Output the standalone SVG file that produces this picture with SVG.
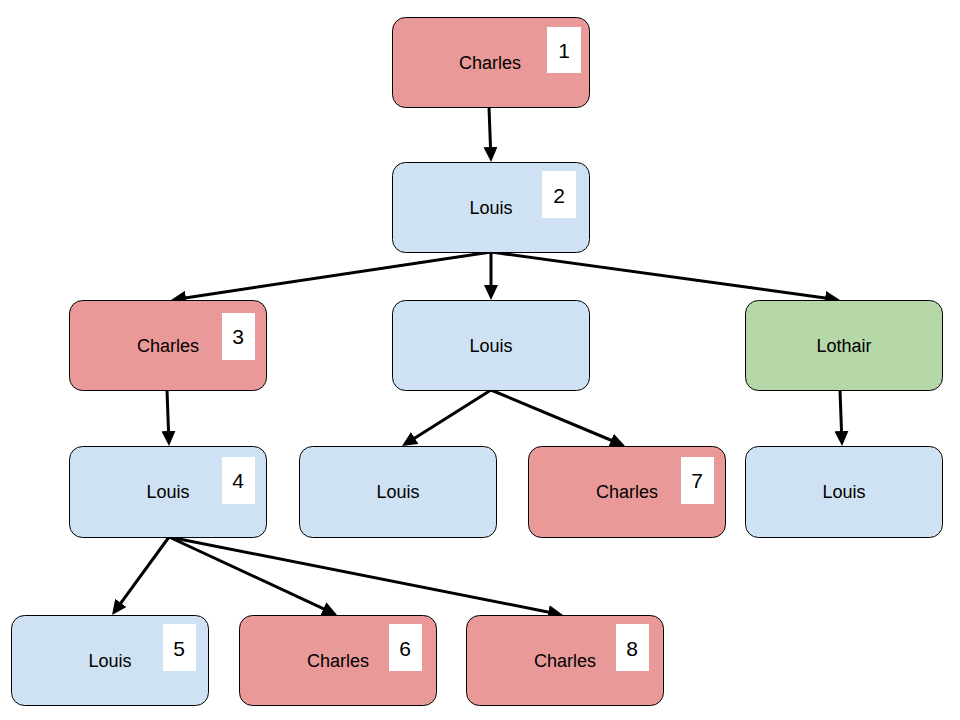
<svg xmlns="http://www.w3.org/2000/svg" width="960" height="720" viewBox="0 0 960 720">
<style>
.n{stroke:#000;stroke-width:1}
.red{fill:#EA9999}
.blue{fill:#CFE2F3}
.green{fill:#B6D7A8}
.badge{fill:#fff}
.lbl{font-family:"Liberation Sans",Arial,sans-serif;font-size:18px;fill:#000;text-anchor:middle}
.num{font-family:"Liberation Sans",Arial,sans-serif;font-size:21px;fill:#000;text-anchor:middle}
.e{stroke:#000;stroke-width:3;fill:none;marker-end:url(#ah)}
</style>
<defs>
<marker id="ah" viewBox="0 0 15 14" markerWidth="15" markerHeight="14" refX="11" refY="7" orient="auto" markerUnits="userSpaceOnUse">
<path d="M0,0 L15,7 L0,14 z" fill="#000"/>
</marker>
</defs>
<rect width="960" height="720" fill="#fff"/>
<g id="connectors">
<line class="e" x1="489" y1="107" x2="490.9" y2="158"/>
<line class="e" x1="491" y1="252" x2="175" y2="299.4"/>
<line class="e" x1="491" y1="252" x2="491" y2="296"/>
<line class="e" x1="491" y1="252" x2="836" y2="299.5"/>
<line class="e" x1="167" y1="390" x2="168.9" y2="442"/>
<line class="e" x1="491" y1="390" x2="405.4" y2="443.9"/>
<line class="e" x1="491" y1="390" x2="621.3" y2="444.5"/>
<line class="e" x1="840" y1="390" x2="841.9" y2="442"/>
<line class="e" x1="169" y1="537" x2="114.4" y2="611.8"/>
<line class="e" x1="169" y1="537" x2="333.4" y2="613.3"/>
<line class="e" x1="169" y1="537" x2="559.1" y2="614.2"/>
</g>
<g id="n1">
<rect class="n red" x="392.5" y="17.5" width="197" height="90" rx="13"/>
<text class="lbl" x="490" y="69">Charles</text>
<rect class="badge" x="547" y="27" width="34" height="46"/>
<text class="num" x="564" y="58">1</text>
</g>
<g id="n2">
<rect class="n blue" x="392.5" y="162.5" width="197" height="90" rx="13"/>
<text class="lbl" x="491" y="214">Louis</text>
<rect class="badge" x="542" y="171" width="34" height="47"/>
<text class="num" x="559" y="203">2</text>
</g>
<g id="n3">
<rect class="n red" x="69.5" y="300.5" width="197" height="90" rx="13"/>
<text class="lbl" x="168" y="352">Charles</text>
<rect class="badge" x="222" y="313" width="33" height="47"/>
<text class="num" x="238" y="344">3</text>
</g>
<g id="n_louis_mid">
<rect class="n blue" x="392.5" y="300.5" width="197" height="90" rx="13"/>
<text class="lbl" x="491" y="352">Louis</text>
</g>
<g id="n_lothair">
<rect class="n green" x="745.5" y="300.5" width="197" height="90" rx="13"/>
<text class="lbl" x="844" y="352">Lothair</text>
</g>
<g id="n4">
<rect class="n blue" x="69.5" y="446.5" width="197" height="91" rx="13"/>
<text class="lbl" x="168" y="498">Louis</text>
<rect class="badge" x="222" y="457" width="33" height="47"/>
<text class="num" x="238" y="488">4</text>
</g>
<g id="n_louis_r4a">
<rect class="n blue" x="299.5" y="446.5" width="197" height="91" rx="13"/>
<text class="lbl" x="398" y="498">Louis</text>
</g>
<g id="n7">
<rect class="n red" x="528.5" y="446.5" width="197" height="91" rx="13"/>
<text class="lbl" x="627" y="498">Charles</text>
<rect class="badge" x="681" y="457" width="33" height="47"/>
<text class="num" x="697" y="488">7</text>
</g>
<g id="n_louis_r4b">
<rect class="n blue" x="745.5" y="446.5" width="197" height="91" rx="13"/>
<text class="lbl" x="844" y="498">Louis</text>
</g>
<g id="n5">
<rect class="n blue" x="11.5" y="615.5" width="197" height="90" rx="13"/>
<text class="lbl" x="110" y="667">Louis</text>
<rect class="badge" x="163" y="624" width="33" height="47"/>
<text class="num" x="179" y="656">5</text>
</g>
<g id="n6">
<rect class="n red" x="239.5" y="615.5" width="197" height="90" rx="13"/>
<text class="lbl" x="338" y="667">Charles</text>
<rect class="badge" x="389" y="624" width="33" height="47"/>
<text class="num" x="405" y="656">6</text>
</g>
<g id="n8">
<rect class="n red" x="466.5" y="615.5" width="197" height="90" rx="13"/>
<text class="lbl" x="565" y="667">Charles</text>
<rect class="badge" x="616" y="624" width="33" height="47"/>
<text class="num" x="632" y="656">8</text>
</g>
</svg>
